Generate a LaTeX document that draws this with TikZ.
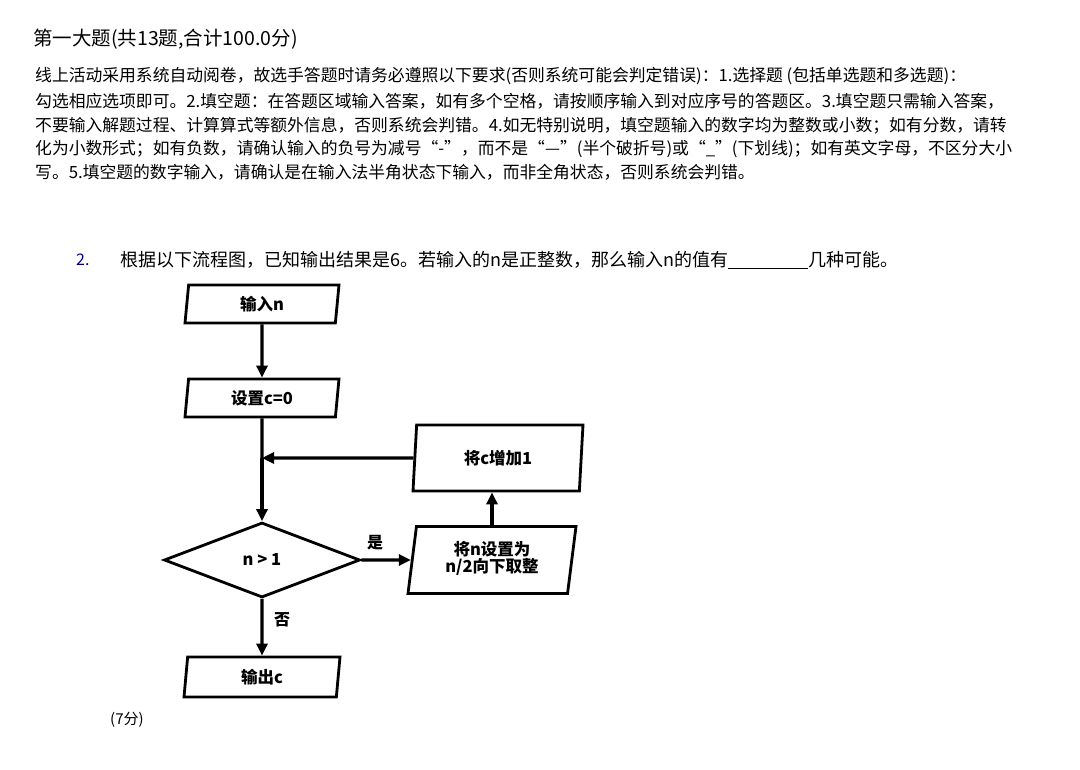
\documentclass[tikz,border=0pt]{standalone}
\usepackage{fontspec}
\setmainfont{Noto Sans CJK SC}
\usetikzlibrary{shapes.geometric,arrows.meta}
\begin{document}
\begin{tikzpicture}[x=1pt,y=-1pt,
  para/.style={shape=trapezium,trapezium left angle=77,trapezium right angle=103,trapezium stretches body=true,draw,line width=2.8pt,font=\fontsize{16.5}{19}\selectfont\bfseries,inner sep=0pt},
  conn/.style={line width=3.2pt,-{Triangle[length=12pt,width=11pt]}},
  ptext/.style={anchor=west,font=\fontsize{16.8}{18}\selectfont,inner sep=0pt}]
\useasboundingbox[fill=white] (0,0) rectangle (1080,770);
\node[anchor=west,font=\fontsize{19.5}{22}\selectfont,inner sep=0pt] (title) at (33,39) {第一大题(共13题,合计100.0分)};
\node[ptext] (l1) at (35,76) {线上活动采用系统自动阅卷，故选手答题时请务必遵照以下要求(否则系统可能会判定错误)：1.选择题 (包括单选题和多选题)：};
\node[ptext] (l2) at (35,101) {勾选相应选项即可。2.填空题：在答题区域输入答案，如有多个空格，请按顺序输入到对应序号的答题区。3.填空题只需输入答案，};
\node[ptext] (l3) at (35,126) {不要输入解题过程、计算算式等额外信息，否则系统会判错。4.如无特别说明，填空题输入的数字均为整数或小数；如有分数，请转};
\node[ptext] (l4) at (35,149) {化为小数形式；如有负数，请确认输入的负号为减号“-”，而不是“—”(半个破折号)或“\_”(下划线)；如有英文字母，不区分大小};
\node[ptext] (l5) at (35,172) {写。5.填空题的数字输入，请确认是在输入法半角状态下输入，而非全角状态，否则系统会判错。};
\node[anchor=west,inner sep=0pt,font=\fontsize{16}{18}\selectfont,text=blue!50!black] (qn) at (76,260) {2.};
\node[anchor=west,inner sep=0pt,font=\fontsize{18}{20}\selectfont] (q) at (120,260) {根据以下流程图，已知输出结果是6。若输入的n是正整数，那么输入n的值有\underline{\hspace{80pt}}几种可能。};

\node[para,minimum width=154,minimum height=38] (in) at (262,304) {输入n};
\node[para,minimum width=154,minimum height=38] (set) at (262,398) {设置c=0};
\node[draw,diamond,line width=2.8pt,minimum width=196,minimum height=75,aspect=2.6,inner sep=0pt,font=\fontsize{16.5}{19}\selectfont\bfseries] (dec) at (262,560) {n > 1};
\node[para,minimum width=168,minimum height=67] (half) at (492,560) {\begin{tabular}{c}将n设置为\\[-3pt] n/2向下取整\end{tabular}};
\node[para,minimum width=170,minimum height=66] (inc) at (498,458) {将c增加1};
\node[para,minimum width=156,minimum height=40] (out) at (262,677) {输出c};
\node[font=\fontsize{16}{18}\selectfont\bfseries] (yes) at (375,543) {是};
\node[font=\fontsize{16}{18}\selectfont\bfseries] (no) at (282,620) {否};
\node[anchor=west,inner sep=0pt,font=\fontsize{15}{17}\selectfont] (score) at (110,720) {(7分)};
\coordinate (join) at (262,458);

\draw[conn] (in.south) -- (set.north);
\draw[line width=3.2pt] (set.south) -- (join);
\draw[conn] (join) -- (dec.north);
\draw[conn] (inc.west) -- (join);
\draw[conn] (dec.east) -- (half.west);
\draw[conn] (half.north) -- (half.north |- inc.south);
\draw[conn] (dec.south) -- (out.north);
\end{tikzpicture}
\end{document}
